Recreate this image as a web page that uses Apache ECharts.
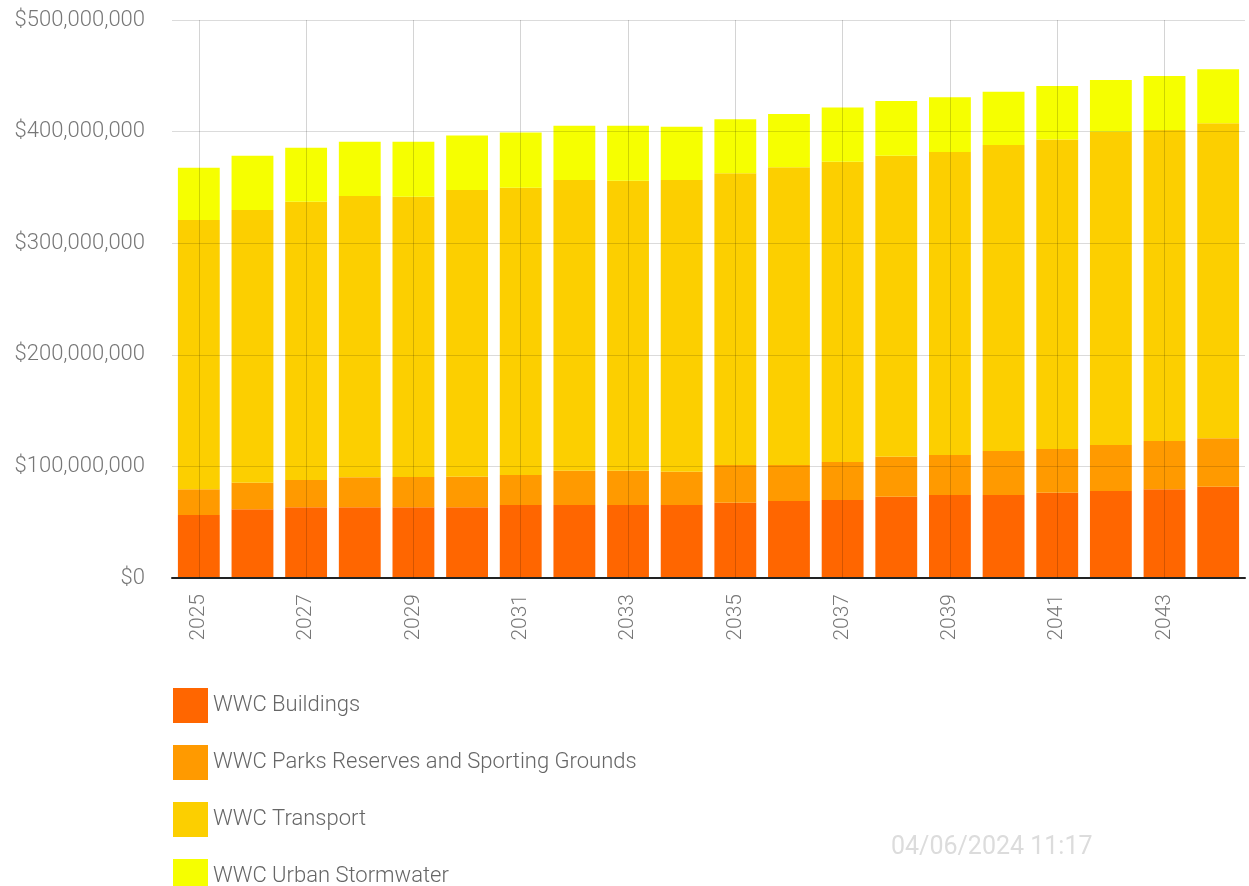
<!DOCTYPE html>
<html>
<head>
<meta charset="utf-8">
<script src="https://cdn.jsdelivr.net/npm/echarts@6/dist/echarts.min.js"></script>
<style>
  html, body { margin: 0; padding: 0; background: #fff; }
  #chart { width: 1249px; height: 886px; }
</style>
</head>
<body>
<div id="chart"></div>
<script>
// years on the category axis
var years = ['2025', '2026', '2027', '2028', '2029', '2030', '2031', '2032', '2033', '2034',
  '2035', '2036', '2037', '2038', '2039', '2040', '2041', '2042', '2043', '2044']

// values in $ millions
var buildings = [56.5, 61.5, 63.3, 63.3, 63.3, 63.3, 65.4, 65.4, 65.4, 65.4,
  67.5, 69, 69.9, 72.8, 74.4, 74.4, 76.4, 78, 79.5, 81.8]
var parks = [23, 23.9, 24.5, 26.9, 27.2, 27.5, 26.9, 30.7, 30.7, 29.8,
  33.8, 32.3, 34.1, 35.9, 35.8, 39.4, 39.2, 41.2, 43.3, 43.4]
var transport = [241.3, 244.3, 249.4, 252.1, 251.2, 256.9, 257.4, 260.5, 259.9, 261.4,
  261.3, 266.7, 269, 269.7, 271.5, 274.2, 277.4, 280.7, 278.6, 282.2]
var stormwater = [46.9, 48.7, 48.4, 48.7, 49.3, 48.7, 49.6, 48.7, 49.3, 47.8,
  48.4, 47.8, 48.5, 49, 49, 47.8, 47.9, 46.3, 48.4, 48.4]

var seriesNames = ['WWC Buildings', 'WWC Parks Reserves and Sporting Grounds', 'WWC Transport', 'WWC Urban Stormwater']
var seriesColors = ['#FF6600', '#FF9A00', '#FCCF00', '#F6FF00']
var seriesData = [buildings, parks, transport, stormwater]

// labelled years get a vertical grid line through the bar centre
var gridYears = years.filter(function(y, i) { return i % 2 === 0 })

var chart = echarts.init(document.getElementById('chart'))

function toDollars(arr) {
  return arr.map(function(v) { return Math.round(v * 1e6) })
}

var series = seriesNames.map(function(name, i) {
  return {
    name: name,
    type: 'bar',
    stack: 'total',
    barCategoryGap: '22%',
    data: toDollars(seriesData[i])
  }
})
series[series.length - 1].markLine = {
  silent: true,
  symbol: 'none',
  label: { show: false },
  lineStyle: { color: 'rgba(0,0,0,0.17)', type: 'solid', width: 1 },
  data: gridYears.map(function(y) { return { xAxis: y } })
}

chart.setOption({
  animation: false,
  textStyle: { fontFamily: 'Roboto' },
  color: seriesColors,
  title: {
    text: '04/06/2024 11:17',
    left: 886,
    top: 830,
    textStyle: { color: '#dcdcdc', fontSize: 25, fontWeight: 'normal', fontFamily: 'Roboto' }
  },
  grid: {
    left: 172,
    right: 4,
    top: 20,
    bottom: 308
  },
  legend: {
    orient: 'vertical',
    left: 168,
    top: 683,
    height: 220,
    itemWidth: 35,
    itemHeight: 35,
    itemGap: 22,
    icon: 'rect',
    textStyle: { color: '#666', fontSize: 22, fontWeight: 300, fontFamily: 'Roboto', padding: [0, 0, 0, 0] },
    data: seriesNames
  },
  xAxis: {
    type: 'category',
    data: years,
    z: 3,
    axisLine: { lineStyle: { color: '#222', width: 2 } },
    axisTick: { alignWithLabel: true, interval: 1, length: 10, lineStyle: { color: '#222', width: 2 } },
    axisLabel: { interval: 1, rotate: 90, color: '#777', fontSize: 21, fontWeight: 300, margin: 16 },
    splitLine: { show: false }
  },
  yAxis: {
    type: 'value',
    min: 0,
    max: 500000000,
    interval: 100000000,
    z: 3,
    axisLine: { show: false },
    axisTick: { show: false },
    axisLabel: {
      color: '#777',
      fontSize: 22,
      fontWeight: 300,
      margin: 27,
      formatter: function(v) {
        return '$' + v.toLocaleString('en-US')
      }
    },
    splitLine: { lineStyle: { color: 'rgba(0,0,0,0.14)' } }
  },
  series: series
})
</script>
</body>
</html>
